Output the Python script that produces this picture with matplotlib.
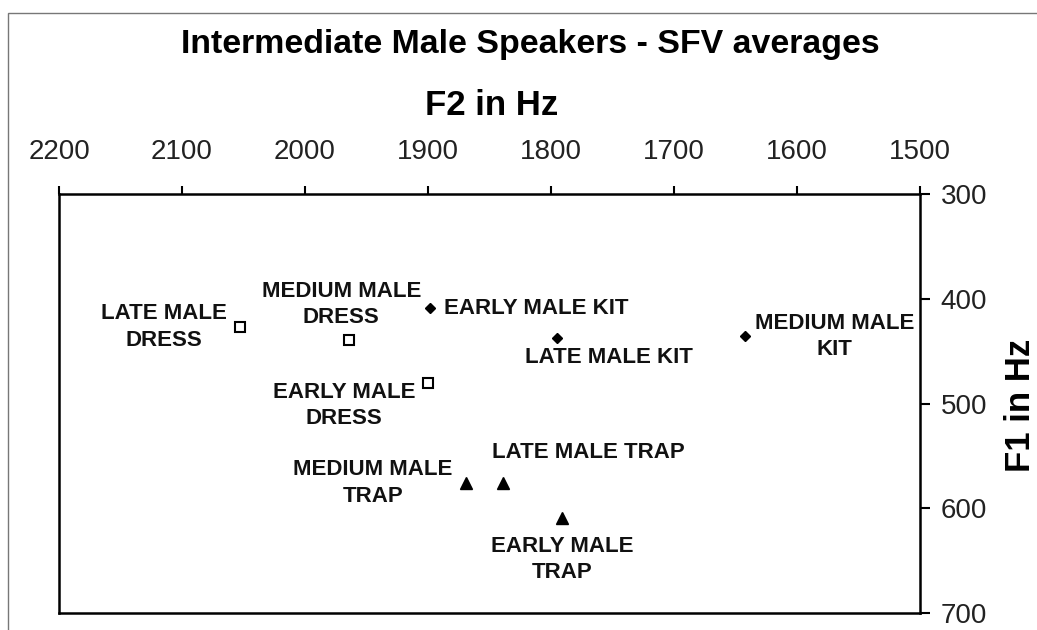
import matplotlib
matplotlib.use("Agg")
import matplotlib.pyplot as plt
from matplotlib.patches import Rectangle

plt.rcParams['font.family'] = ['Liberation Sans', 'DejaVu Sans']

# formant averages (Hz) per vowel, order: early, medium, late
dress_labels = ['EARLY MALE\nDRESS', 'MEDIUM MALE\nDRESS', 'LATE MALE\nDRESS']
dress_f2 = [1900, 1964, 2053]
dress_f1 = [480, 439, 427]

kit_labels = ['EARLY MALE KIT', 'MEDIUM MALE\nKIT', 'LATE MALE KIT']
kit_f2 = [1898, 1642, 1795]
kit_f1 = [409, 436, 437]

trap_labels = ['EARLY MALE\nTRAP', 'MEDIUM MALE\nTRAP', 'LATE MALE TRAP']
trap_f2 = [1791, 1869, 1839]
trap_f1 = [609, 576, 576]

f2_ticks = [2200, 2100, 2000, 1900, 1800, 1700, 1600, 1500]
f1_ticks = [300, 400, 500, 600, 700]

# label offsets from each point, in pixels (right, up)
dress_off = [(-84, -23), (-8, 35), (-76, 0)]
kit_off = [(106, 0), (89, 0), (52, -20)]
trap_off = [(0, -42), (-93, 0), (85, 31)]

W, H = 1037, 630
fig = plt.figure(figsize=(W / 100, H / 100), dpi=100)
ax = fig.add_axes([59 / W, 1 - 613 / H, (920 - 59) / W, (613 - 194) / H])

ax.plot(dress_f2, dress_f1, 's', ms=7, mfc='white', mec='black', mew=1.5)
ax.plot(kit_f2, kit_f1, 'D', ms=5.5, color='black')
ax.plot(trap_f2, trap_f1, '^', ms=8.5, color='black')

for labels, xs, ys, offs in [(dress_labels, dress_f2, dress_f1, dress_off),
                             (kit_labels, kit_f2, kit_f1, kit_off),
                             (trap_labels, trap_f2, trap_f1, trap_off)]:
    for lab, x, y, (dx, dy) in zip(labels, xs, ys, offs):
        ax.annotate(lab, (x, y), xytext=(dx, dy), textcoords='offset pixels',
                    ha='center', va='center', multialignment='center',
                    linespacing=1.35, fontsize=16, fontweight='bold',
                    color='#111')

# reversed F2 on top, inverted F1 on the right
ax.set_xlim(2200, 1500)
ax.set_ylim(700, 300)
ax.set_xticks(f2_ticks)
ax.set_yticks(f1_ticks)
ax.xaxis.tick_top()
ax.yaxis.tick_right()
ax.tick_params(axis='x', direction='out', length=6, width=1.5, pad=15,
               labelsize=20, labelcolor='#222')
ax.tick_params(axis='y', direction='out', length=7, width=1.5, pad=8,
               labelsize=20, labelcolor='#222')
for s in ax.spines.values():
    s.set_linewidth(1.8)

fig.text(530 / W, 1 - 53 / H, 'Intermediate Male Speakers - SFV averages',
         ha='center', va='baseline', fontsize=24.4, fontweight='bold')
fig.text(492 / W, 1 - 115 / H, 'F2 in Hz', ha='center', va='baseline',
         fontsize=25, fontweight='bold')
fig.text(1020 / W, 1 - 405 / H, 'F1 in Hz', ha='center', va='center',
         rotation=90, fontsize=25, fontweight='bold')

# thin frame around the figure
fig.patches.append(Rectangle((8 / W, -0.1), 1.2, (H - 13) / H + 0.1,
                             transform=fig.transFigure, fill=False,
                             ec='#777', lw=1))

fig.savefig('out.png', dpi=100, facecolor='white')
